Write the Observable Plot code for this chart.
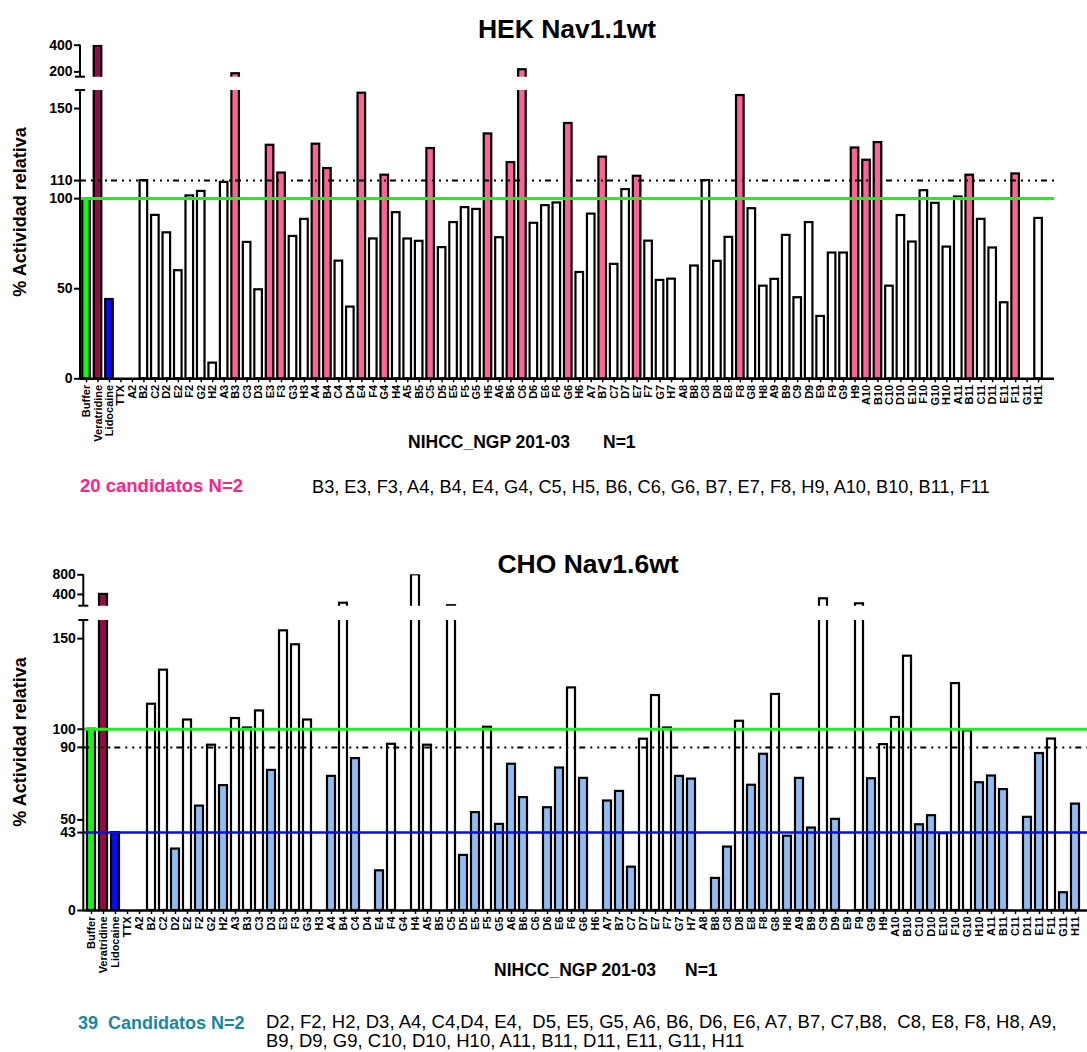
<!DOCTYPE html>
<html>
<head>
<meta charset="utf-8">
<script src="https://cdn.jsdelivr.net/npm/d3@7"></script>
<script src="https://cdn.jsdelivr.net/npm/@observablehq/plot@0.6"></script>
<style>
  html, body { margin: 0; padding: 0; background: #fff; }
  #page { position: relative; width: 1087px; height: 1052px; overflow: hidden; font-family: "Liberation Sans", Arial, Helvetica, sans-serif; color: #000; background: #fff; }
  .abs { position: absolute; white-space: pre; line-height: 1; }
  .ytitle { position: absolute; white-space: nowrap; font-weight: bold; font-size: 18px; line-height: 1; transform: translate(-50%, -50%) rotate(-90deg); }
  .chart { position: absolute; left: 0; }
</style>
</head>
<body>
<div id="page"></div>
<script>
// ---------------- DATA ----------------
const hekCategories = ["Buffer","Veratridine","Lidocaine","TTX",
  "A2","B2","C2","D2","E2","F2","G2","H2",
  "A3","B3","C3","D3","E3","F3","G3","H3",
  "A4","B4","C4","D4","E4","F4","G4","H4",
  "A5","B5","C5","D5","E5","F5","G5","H5",
  "A6","B6","C6","D6","E6","F6","G6","H6",
  "A7","B7","C7","D7","E7","F7","G7","H7",
  "A8","B8","C8","D8","E8","F8","G8","H8",
  "A9","B9","C9","D9","E9","F9","G9","H9",
  "A10","B10","C10","D10","E10","F10","G10","H10",
  "A11","B11","C11","D11","E11","F11","G11","H11"];
const hekValues = [100, 392, 44, 0,
  0, 110, 90.7, 81, 60, 101.5, 104, 8.7,
  109, 186, 75.7, 49.4, 129.6, 114.2, 79, 88.5,
  130.2, 116.7, 65.3, 39.8, 158.5, 77.6, 113, 92.2,
  77.6, 76.3, 127.8, 72.8, 86.7, 95, 94, 135.9,
  78.3, 120, 216, 86.3, 96.1, 97.6, 141.7, 59,
  91.4, 123, 63.5, 105, 112.4, 76.4, 54.6, 55.3,
  0, 62.6, 110, 65.2, 78.5, 157.2, 94.4, 51.4,
  55.2, 79.6, 45, 86.7, 34.6, 69.8, 69.8, 128.1,
  121.3, 131.1, 51.4, 90.6, 75.9, 104.4, 97.4, 73.1,
  100.9, 113, 88.5, 72.6, 42.2, 113.7, 0, 89];
const hekHits = ["B3","E3","F3","A4","B4","E4","G4","C5","H5","B6","C6","G6","B7","E7","F8","H9","A10","B10","B11","F11"];

const choCategories = ["Buffer","Veratridine","Lidocaine","TTX",
  "A2","B2","C2","D2","E2","F2","G2","H2",
  "A3","B3","C3","D3","E3","F3","G3","H3",
  "A4","B4","C4","D4","E4","F4","G4","H4",
  "A5","B5","C5","D5","E5","F5","G5",
  "A6","B6","C6","D6","E6","F6","G6","H6",
  "A7","B7","C7","D7","E7","F7","G7","H7",
  "A8","B8","C8","D8","E8","F8","G8","H8",
  "A9","B9","C9","D9","E9","F9","G9","H9",
  "A10","B10","C10","D10","E10","F10","G10","H10",
  "A11","B11","C11","D11","E11","F11","G11","H11"];
const choValues = [100, 400, 43, 0,
  0, 113.8, 132.6, 33.9, 105.1, 57.6, 91.2, 68.9,
  105.9, 100.7, 110.1, 77.3, 154.3, 146.6, 105.1, 0,
  74, 221, 83.8, 0, 21.9, 91.7, 0, 800,
  91.2, 0, 170, 30.4, 54, 101.1, 47.5,
  80.7, 62.3, 0, 56.7, 78.6, 122.8, 72.9, 0,
  60.4, 65.7, 23.9, 94.5, 118.6, 100.7, 74, 72.5,
  0, 17.7, 35, 104.4, 69.1, 86.2, 119.2, 41,
  72.9, 45.5, 311, 50.3, 0, 209, 72.7, 91.5,
  106.5, 140.3, 47.3, 52.3, 42.4, 125.2, 99.1, 70.5,
  74.2, 66.7, 0, 51.4, 86.6, 94.6, 9.8, 58.7];
const choHits = ["D2","F2","H2","D3","A4","C4","E4","D5","E5","G5","A6","B6","D6","E6","G6",
  "A7","B7","C7","G7","H7","B8","C8","E8","F8","H8","A9","B9","D9","G9",
  "C10","D10","H10","A11","B11","D11","E11","G11","H11"];

const hekLowerTicks = [0, 50, 100, 110, 150];
const hekUpperTicks = [200, 400];
const choLowerTicks = [0, 43, 50, 90, 100, 150];
const choUpperTicks = [400, 800];
const breakLow = 160;           // axis break: lower segment 0–160, upper segment 160–top
const hekTop = 400, choTop = 800;

const hekTitle = "HEK Nav1.1wt";
const choTitle = "CHO Nav1.6wt";
const xLabelA = "NIHCC_NGP 201-03", xLabelB = "N=1";
const yLabel = "% Actividad relativa";
const hekCaptionLabel = "20 candidatos N=2";
const hekCaptionList = "B3, E3, F3, A4, B4, E4, G4, C5, H5, B6, C6, G6, B7, E7, F8, H9, A10, B10, B11, F11";
const choCaptionLabel = "39  Candidatos N=2";
const choCaptionLines = ["D2, F2, H2, D3, A4, C4,D4, E4,  D5, E5, G5, A6, B6, D6, E6, A7, B7, C7,B8,  C8, E8, F8, H8, A9,",
  "B9, D9, G9, C10, D10, H10, A11, B11, D11, E11, G11, H11"];

const groups = ["Buffer", "Veratridine", "Lidocaine", "hit", "none"];
const GREEN = "#1ef01e", MAROON = "#970a45", BLUE = "#0a0af5", PINK = "#fb6494", LIGHTBLUE = "#90bcf2";

// ---------------- BUILD ----------------
const FONT = '"Liberation Sans", Arial, Helvetica, sans-serif';
const page = document.getElementById("page");

function groupOf(cat, hits) {
  if (cat === "Buffer" || cat === "Veratridine" || cat === "Lidocaine") return cat;
  return hits.includes(cat) ? "hit" : "none";
}

const pad = 0.34;

// one panel of a broken-axis chart
function makePanel(cfg) {
  const {data, categories, xRange, left, marginRight, top0, height, yDomain, yRange, ticks, lower, rules, hitColor} = cfg;
  const marks = [
    Plot.barY(data.filter(d => d.value > yDomain[0] || (lower && d.value > 0)),
      {x: "cat", y: "value", fill: "group", stroke: "black", strokeWidth: 2.2, clip: true}),
    ...(rules || [])
  ];
  if (lower) {
    marks.push(Plot.ruleY([0], {stroke: "black", strokeWidth: 2.5}));
    marks.push(Plot.axisX({tickRotate: -90, tickSize: 4, tickPadding: 2, fontSize: 11, strokeWidth: 1.5, label: null}));
  }
  marks.push(Plot.axisY({ticks, tickSize: 6, tickPadding: 2, fontSize: 14, strokeWidth: 2, label: null}));
  const plot = Plot.plot({
    width: 1087,
    height,
    marginLeft: left,
    marginRight,
    marginTop: yRange[1],
    marginBottom: height - yRange[0],
    style: {fontFamily: FONT, fontWeight: "bold", background: "transparent", color: "black", overflow: "visible"},
    x: {domain: categories, range: xRange, paddingInner: pad, paddingOuter: pad / 2, align: 0.5, axis: lower ? undefined : null},
    y: {domain: yDomain, range: yRange},
    color: {domain: groups, range: [GREEN, MAROON, BLUE, hitColor, "white"]},
    marks
  });
  // y-axis line with break cap, positioned through Plot's own y scale
  const sy = plot.scale("y");
  const g = d3.select(plot).append("g").attr("stroke", "black").attr("stroke-width", 2).attr("fill", "none");
  const yA = sy.apply(yDomain[0]), yB = sy.apply(yDomain[1]);
  g.append("line").attr("x1", left).attr("x2", left).attr("y1", lower ? yA + 1.2 : yA).attr("y2", yB);
  const capY = lower ? yB : yA;
  g.append("line").attr("x1", left - 5).attr("x2", left + 5).attr("y1", capY).attr("y2", capY);
  plot.classList.add("chart");
  plot.style.top = top0 + "px";
  page.appendChild(plot);
}

function makeChart(cfg) {
  const data = cfg.categories.map((c, i) => ({cat: c, value: cfg.values[i], group: groupOf(c, cfg.hits)}));
  const common = {data, categories: cfg.categories, xRange: cfg.xRange, left: cfg.left, marginRight: cfg.marginRight, hitColor: cfg.hitColor};
  makePanel({...common, top0: cfg.upperTop0, height: 80, yDomain: [breakLow, cfg.top],
    yRange: cfg.upperRange, ticks: cfg.upperTicks, lower: false});
  makePanel({...common, top0: cfg.lowerTop0, height: 380, yDomain: [0, breakLow],
    yRange: cfg.lowerRange, ticks: cfg.lowerTicks, lower: true, rules: cfg.rules});
}

const dashDot = "6,5,2,5,2,5,2,4";

makeChart({
  categories: hekCategories, values: hekValues, hits: hekHits, hitColor: PINK,
  left: 80, marginRight: 33, xRange: [80.3, 1043.8], top: hekTop,
  upperTop0: 0, upperRange: [76.7, 44.7], upperTicks: hekUpperTicks,
  lowerTop0: 80, lowerRange: [298.3, 10], lowerTicks: hekLowerTicks,
  rules: [
    Plot.ruleY([110], {stroke: "black", strokeWidth: 2, strokeDasharray: dashDot}),
    Plot.ruleY([100], {stroke: GREEN, strokeWidth: 3})
  ]
});

makeChart({
  categories: choCategories, values: choValues, hits: choHits, hitColor: LIGHTBLUE,
  left: 83.3, marginRight: 0, xRange: [83.3, 1082.6], top: choTop,
  upperTop0: 530, upperRange: [75.7, 44.3], upperTicks: choUpperTicks,
  lowerTop0: 610, lowerRange: [300, 10], lowerTicks: choLowerTicks,
  rules: [
    Plot.ruleY([90], {stroke: "black", strokeWidth: 2, strokeDasharray: dashDot}),
    Plot.ruleY([100], {stroke: GREEN, strokeWidth: 3}),
    Plot.ruleY([43], {stroke: BLUE, strokeWidth: 2.5})
  ]
});

// ---------------- TEXT ----------------
function addText(txt, left, baseline, size, opts = {}) {
  const d = document.createElement("div");
  d.className = "abs";
  d.textContent = txt;
  d.style.fontSize = size + "px";
  d.style.top = (baseline - 0.8465 * size) + "px";
  d.style.left = left + "px";
  if (opts.center) d.style.transform = "translateX(-50%)";
  if (opts.bold) d.style.fontWeight = "bold";
  if (opts.color) d.style.color = opts.color;
  page.appendChild(d);
  return d;
}
function addYTitle(cx, cy) {
  const d = document.createElement("div");
  d.className = "ytitle";
  d.textContent = yLabel;
  d.style.left = cx + "px";
  d.style.top = cy + "px";
  page.appendChild(d);
}

addText(hekTitle, 567, 38.8, 26.5, {bold: true, center: true});
addText(choTitle, 588, 573.5, 26.5, {bold: true, center: true});
addYTitle(20, 212);
addYTitle(20, 742);
addText(xLabelA, 408, 449, 17.5, {bold: true});
addText(xLabelB, 603, 449, 17.5, {bold: true});
addText(xLabelA, 494, 976.5, 17.5, {bold: true});
addText(xLabelB, 685, 976.5, 17.5, {bold: true});

addText(hekCaptionLabel, 80, 493, 18.5, {bold: true, color: "#ff2288"});
addText(hekCaptionList, 312, 493, 18.2);
addText(choCaptionLabel, 78, 1029, 18, {bold: true, color: "#17879f"});
addText(choCaptionLines[0], 266, 1029, 18.5);
addText(choCaptionLines[1], 266, 1048, 18.5);
</script>
</body>
</html>
